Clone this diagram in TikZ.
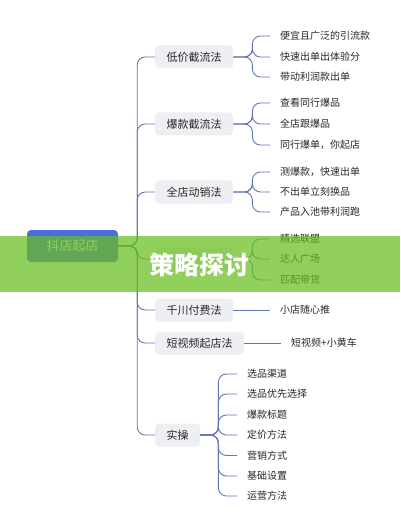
\documentclass[tikz,border=0pt]{standalone}
\usepackage{fontspec}
\newfontfamily\cjk{Noto Sans CJK SC}
\definecolor{linec}{RGB}{98,118,180}
\definecolor{nodegray}{RGB}{238,239,242}
\definecolor{rootblue}{RGB}{74,110,224}
\definecolor{bandgreen}{RGB}{104,190,30}
\definecolor{txt}{RGB}{40,40,40}
\tikzset{
  conn/.style={draw=linec, line width=0.9pt, rounded corners=8pt},
  branchbox/.style={anchor=west, fill=nodegray, rounded corners=4pt, inner xsep=11.5pt, inner ysep=0pt, minimum height=23pt, text=txt, font=\cjk\fontsize{11}{13}\selectfont},
  leaf/.style={anchor=west, inner xsep=10pt, inner ysep=2pt, text=txt, font=\cjk\fontsize{10}{12}\selectfont},
  rootbox/.style={fill=rootblue, rounded corners=4pt, minimum width=91pt, minimum height=32pt, text=white, font=\cjk\fontsize{13}{15}\selectfont}
}
\begin{document}
\begin{tikzpicture}[x=1pt,y=-1pt]
\useasboundingbox (0,0) rectangle (400,529);
\fill[white] (0,0) rectangle (400,529);
% root
\node[rootbox] (root) at (72.5,246) {抖店起店};
% branch nodes
\node[branchbox] (n1) at (155,57) {低价截流法};
\node[branchbox] (n2) at (155,124) {爆款截流法};
\node[branchbox] (n3) at (155,192) {全店动销法};
\node[branchbox, minimum width=78pt] (n4) at (155,259) {};
\node[branchbox] (n5) at (155,310) {千川付费法};
\node[branchbox] (n6) at (155,343) {短视频起店法};
\node[branchbox] (n7) at (155,435) {实操};
% trunk connectors
\foreach \n in {n1,n2,n3,n4,n5,n6,n7}{
  \draw[conn] (root.east) -- ++(19,0) |- (\n.west);
}
% leaves n1
\node[leaf] (a1) at (270,36) {便宜且广泛的引流款};
\node[leaf] (a2) at (270,57) {快速出单出体验分};
\node[leaf] (a3) at (270,77) {带动利润款出单};
% leaves n2
\node[leaf] (b1) at (270,103) {查看同行爆品};
\node[leaf] (b2) at (270,124) {全店跟爆品};
\node[leaf] (b3) at (270,145) {同行爆单，你起店};
% leaves n3
\node[leaf] (c1) at (270,172) {测爆款，快速出单};
\node[leaf] (c2) at (270,192) {不出单立刻换品};
\node[leaf] (c3) at (270,212) {产品入池带利润跑};
% leaves n4
\node[leaf] (d1) at (270,239) {精选联盟};
\node[leaf] (d2) at (270,259) {达人广场};
\node[leaf] (d3) at (270,280) {匹配带货};
% leaves n5, n6
\node[leaf] (e1) at (270,310) {小店随心推};
\node[leaf] (f1) at (281,343) {短视频+小黄车};
% leaves n7
\node[leaf] (g1) at (237,374) {选品渠道};
\node[leaf] (g2) at (237,394) {选品优先选择};
\node[leaf] (g3) at (237,415) {爆款标题};
\node[leaf] (g4) at (237,435) {定价方法};
\node[leaf] (g5) at (237,455.5) {营销方式};
\node[leaf] (g6) at (237,476) {基础设置};
\node[leaf] (g7) at (237,496) {运营方法};
% brackets
\foreach \p/\l in {n1/a1,n1/a2,n1/a3,n2/b1,n2/b2,n2/b3,n3/c1,n3/c2,n3/c3,n4/d1,n4/d2,n4/d3}{
  \draw[conn] (\p.east) -- ++(19,0) |- (\l.west);
}
\draw[conn] (n5.east) -- (e1.west);
\draw[conn] (n6.east) -- (f1.west);
\foreach \l in {g1,g2,g3,g4,g5,g6,g7}{
  \draw[conn] (n7.east) -- ++(18,0) |- (\l.west);
}
% overlay band
\fill[bandgreen, opacity=0.72] (0,236) rectangle (400,292);
\node[text=white, font=\cjk\bfseries\fontsize{25}{28}\selectfont] (title) at (199,265) {策略探讨};
\end{tikzpicture}
\end{document}
